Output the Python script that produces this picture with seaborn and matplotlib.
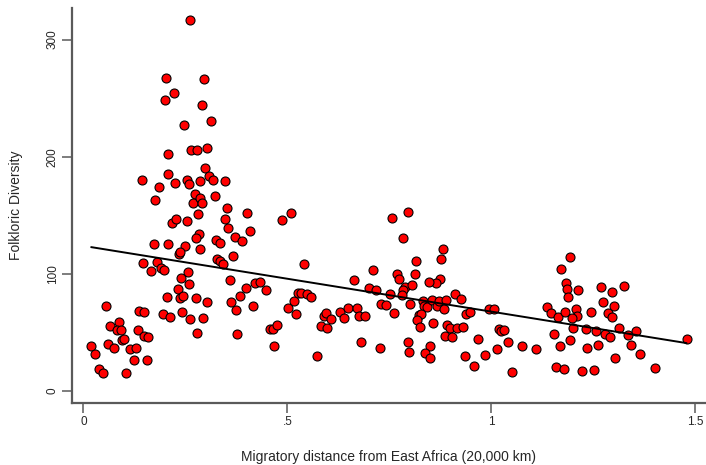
import numpy as np
import pandas as pd
import seaborn as sns
import matplotlib.pyplot as plt

# migratory distance (units of 20,000 km)
distance = [
    0.262, 0.203, 0.295, 0.221, 0.200, 0.290, 0.312, 0.246, 0.208, 0.263,
    0.278, 0.302, 0.143, 0.208, 0.299, 0.186, 0.224, 0.254, 0.258, 0.287,
    0.307, 0.318, 0.348, 0.175, 0.273, 0.268, 0.285, 0.291, 0.322, 0.351,
    0.402, 0.487, 0.510, 0.217, 0.227, 0.253, 0.280, 0.346, 0.355, 0.408,
    0.283, 0.277, 0.325, 0.372, 0.390, 0.757, 0.796, 0.784, 0.336, 0.287,
    0.367, 0.327, 0.334, 0.342, 0.540, 0.8165, 0.709, 0.769, 0.812, 0.883,
    0.876, 1.172, 1.192, 0.173, 0.207, 0.250, 0.234, 0.237, 0.145, 0.180,
    0.190, 0.198, 0.166, 0.256, 0.3585, 0.231, 0.240, 0.259, 0.237, 0.243,
    0.204, 0.275, 0.303, 0.361, 0.384, 0.398, 0.420, 0.432, 0.447, 0.4156,
    0.374, 0.2417, 0.196, 0.213, 0.2606, 0.292, 0.2777, 0.377, 0.0564, 0.0654,
    0.0866, 0.0818, 0.0916, 0.137, 0.1487, 0.134, 0.094, 0.1005, 0.0605, 0.0745,
    0.019, 0.0294, 0.115, 0.130, 0.149, 0.159, 0.1234, 0.157, 0.0384, 0.0474,
    0.1046, 0.5006, 0.517, 0.521, 0.5266, 0.533, 0.5486, 0.559, 0.457, 0.464,
    0.4736, 0.467, 0.5724, 0.582, 0.5895, 0.594, 0.5976, 0.608, 0.6287, 0.640,
    0.649, 0.664, 0.672, 0.676, 0.680, 0.775, 0.8736, 0.864, 0.8467, 0.789,
    0.784, 0.781, 0.8067, 0.753, 0.7005, 0.717, 0.6916, 0.7308, 0.743, 0.762,
    0.7275, 0.801, 0.832, 0.834, 0.8425, 0.822, 0.829, 0.819, 0.826, 0.8557,
    0.857, 0.868, 0.872, 0.884, 0.890, 0.912, 0.927, 0.8925, 0.899, 0.916,
    0.9307, 0.8876, 0.9047, 0.796, 0.798, 0.849, 0.8369, 0.851, 0.937, 0.9488,
    0.935, 0.957, 0.968, 0.984, 0.9944, 1.0076, 1.018, 1.0247, 1.032, 1.041,
    1.013, 1.0517, 1.076, 1.110, 1.1357, 1.146, 1.1545, 1.1585, 1.178, 1.169,
    1.164, 1.180, 1.183, 1.185, 1.188, 1.213, 1.2075, 1.2116, 1.1977, 1.2018,
    1.193, 1.223, 1.232, 1.236, 1.245, 1.2525, 1.262, 1.258, 1.2696, 1.275,
    1.280, 1.2858, 1.295, 1.3005, 1.297, 1.292, 1.3145, 1.3037, 1.325, 1.335,
    1.354, 1.342, 1.366, 1.4026, 1.479,
]

# folkloric diversity, same order as distance
diversity = [
    316.6, 267.5, 266.4, 254.2, 248.7, 244.4, 230.5, 227.1, 202.0, 206.0,
    206.0, 207.4, 180.0, 185.5, 190.6, 174.0, 177.8, 179.8, 176.4, 179.2,
    183.5, 179.8, 179.2, 162.7, 168.1, 160.2, 164.4, 160.7, 166.7, 156.4,
    151.6, 145.9, 151.9, 143.1, 146.5, 145.3, 150.8, 146.5, 139.0, 136.8,
    134.2, 130.8, 128.8, 131.1, 128.2, 147.3, 153.0, 130.3, 126.0, 120.8,
    115.4, 112.8, 110.9, 108.5, 108.0, 111.1, 102.9, 99.5, 99.5, 120.9,
    112.6, 104.0, 114.0, 125.4, 125.6, 123.4, 116.8, 118.5, 109.4, 110.0,
    105.1, 103.2, 102.0, 101.7, 94.4, 86.9, 96.1, 91.5, 79.0, 80.7,
    80.3, 79.2, 76.1, 75.6, 81.2, 87.5, 92.1, 93.2, 86.3, 72.1,
    68.7, 67.5, 65.8, 63.0, 61.3, 62.1, 49.0, 48.2, 72.4, 55.6,
    58.5, 51.9, 51.9, 68.1, 67.3, 52.1, 43.6, 44.4, 39.7, 36.8,
    38.2, 31.6, 35.9, 36.5, 47.0, 46.2, 26.0, 26.2, 18.8, 15.4,
    15.4, 70.7, 76.4, 65.6, 83.2, 83.2, 82.6, 79.8, 52.7, 52.5,
    56.2, 38.5, 29.9, 55.6, 63.8, 66.4, 53.8, 61.5, 67.3, 62.4,
    70.4, 94.6, 70.9, 64.1, 41.9, 95.2, 95.5, 91.8, 93.2, 88.4,
    86.1, 81.5, 90.3, 82.6, 87.5, 86.3, 63.6, 74.1, 73.5, 66.7,
    36.2, 74.4, 76.9, 72.4, 71.3, 64.7, 65.3, 60.4, 54.4, 77.3,
    58.1, 72.4, 76.9, 70.1, 77.5, 82.4, 78.6, 56.2, 53.3, 53.8,
    54.7, 47.0, 45.9, 41.4, 33.1, 38.2, 32.5, 28.2, 65.6, 67.0,
    29.7, 20.9, 44.2, 30.3, 69.6, 70.1, 53.0, 50.8, 51.9, 41.6,
    35.6, 15.7, 38.2, 35.9, 71.8, 66.7, 48.2, 20.5, 18.8, 38.2,
    62.7, 67.0, 92.3, 87.2, 80.1, 86.1, 69.8, 63.6, 62.4, 53.8,
    43.1, 16.8, 52.5, 36.8, 67.5, 17.4, 39.1, 51.0, 88.6, 75.6,
    48.5, 66.2, 84.6, 72.4, 63.0, 46.2, 53.6, 27.7, 89.7, 47.9,
    51.3, 39.3, 31.4, 19.7, 44.2,
]

x_ticks = [0, 0.5, 1, 1.5]
x_tick_labels = ['0', '.5', '1', '1.5']
y_ticks = [0, 100, 200, 300]
y_tick_labels = ['0', '100', '200', '300']

df = pd.DataFrame({'distance': distance, 'diversity': diversity})

sns.set_style('ticks')
plt.rcParams['font.family'] = ['Liberation Sans', 'DejaVu Sans']

fig = plt.figure(figsize=(7.06, 4.65), dpi=100)
ax = fig.add_axes([0.102, 0.133, 0.897, 0.85])

sns.scatterplot(data=df, x='distance', y='diversity', color='#ff0000',
                edgecolor='black', linewidth=0.8, s=42, ax=ax, zorder=2)
sns.regplot(data=df, x='distance', y='diversity', scatter=False, ci=None,
            color='black', line_kws={'linewidth': 1.4, 'zorder': 3}, ax=ax)

ax.set_xlim(-0.028, 1.525)
ax.set_ylim(-10.5, 327)
ax.set_xticks(x_ticks)
ax.set_xticklabels(x_tick_labels, fontsize=8.5)
ax.set_yticks(y_ticks)
ax.set_yticklabels(y_tick_labels, fontsize=8.5, rotation=90, va='center')

for side in ['top', 'right']:
    ax.spines[side].set_visible(False)
for side in ['left', 'bottom']:
    ax.spines[side].set_color('#5a5a5a')
    ax.spines[side].set_linewidth(1.6)
ax.tick_params(axis='both', length=7, width=1.1, color='#5a5a5a', pad=2.5)

ax.set_xlabel('Migratory distance from East Africa (20,000 km)', fontsize=10)
ax.set_ylabel('Folkloric Diversity', fontsize=10)
ax.xaxis.set_label_coords(0.5, -0.118)
ax.yaxis.set_label_coords(-0.078, 0.5)

fig.savefig('out.png', dpi=100)
plt.close(fig)
